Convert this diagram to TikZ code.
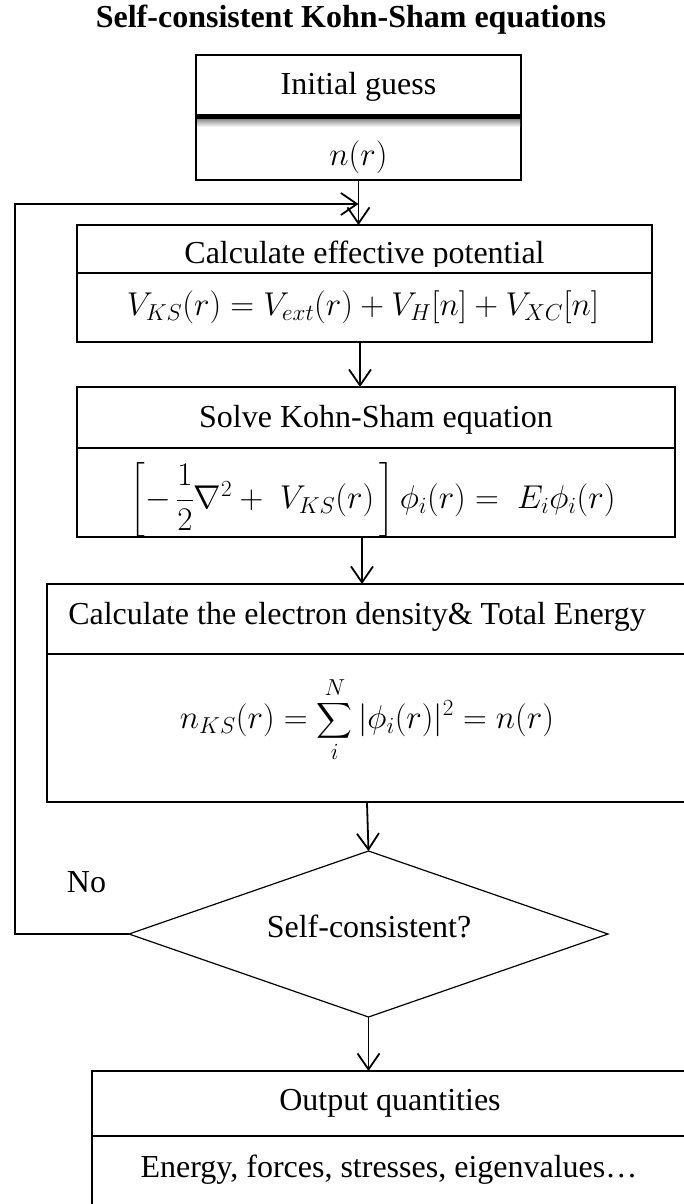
\RequirePackage{fix-cm}
\documentclass[tikz,border=0pt]{standalone}
\usepackage{amsmath}
\usepackage{fontspec}
\setmainfont{Liberation Serif}
\usetikzlibrary{arrows.meta,shapes.geometric}
\newcommand\bodyfont{\fontsize{32}{38}\selectfont}
\newcommand\eqfont{\fontsize{33}{39}\selectfont}
\tikzset{
  box/.style={draw, line width=1.2pt, rectangle, inner sep=0pt, outer sep=0pt},
  txt/.style={font=\bodyfont, inner sep=0pt, anchor=base},
  mth/.style={font=\eqfont, inner sep=0pt},
  arr/.style={line width=1.8pt, -{Straight Barb[length=16pt,width=22pt,line width=1.8pt]}},
  divider/.style={line width=1.2pt}
}
\begin{document}
\begin{tikzpicture}[x=1pt,y=-1pt]
\useasboundingbox (0,0) rectangle (684,1204);
\begin{scope}
\clip (0,0) rectangle (684,1204);
% title
\node[txt, font=\fontsize{32}{38}\selectfont\bfseries] (title) at (351,28) {Self-consistent Kohn-Sham equations};
% initial guess
\node[box, minimum width=325pt, minimum height=125pt] (ig) at (358.5,117.5) {};
\shade[top color=black!45, bottom color=white] (197,119) rectangle (520,127);
\draw[line width=5pt] (196,116.5) -- (521,116.5);
\node[txt] (igt) at (358.5,95) {Initial guess};
\node[mth] (igm) at (358.5,157) {$n(r)$};
% calculate effective potential
\node[box, minimum width=575pt, minimum height=117pt] (calc) at (364.5,283.5) {};
\draw[divider] (77,273) -- (652,273);
\begin{scope}
\clip (77,226) rectangle (652,266);
\node[txt] (calct) at (364.5,263) {Calculate effective potential};
\end{scope}
\node[mth] (calcm) at (363,307) {$V_{KS}(r) = V_{ext}(r) + V_H[n] + V_{XC}[n]$};
% solve KS
\node[box, minimum width=598pt, minimum height=150pt] (solve) at (376,462) {};
\draw[divider] (77,448) -- (675,448);
\node[txt] (solvet) at (376,427) {Solve Kohn-Sham equation};
\node[mth] (solvem) at (373,500) {$\left[-\,\dfrac{1}{2}\nabla^2 +\; V_{KS}(r)\,\right]\phi_i(r) =\; E_i\phi_i(r)$};
% density
\node[box, minimum width=653pt, minimum height=218pt] (dens) at (373.5,693) {};
\draw[divider] (47,654) -- (700,654);
\node[txt] (denst) at (357,624) {Calculate the electron density\& Total Energy};
\node[mth] (densm) at (367,720) {$\displaystyle n_{KS}(r) = \sum_{i}^{N}|\phi_i(r)|^2 = n(r)$};
% decision
\node[draw, line width=1.2pt, diamond, minimum width=479pt, minimum height=166pt, inner sep=0pt, outer sep=0pt] (dec) at (368.5,934) {};
\node[txt] (dect) at (369,937) {Self-consistent?};
\node[txt] (no) at (86.5,892) {No};
% output
\node[box, minimum width=608pt, minimum height=144pt] (out) at (396,1143) {};
\draw[divider] (92,1136) -- (700,1136);
\node[txt] (outt) at (390,1110) {Output quantities};
\node[txt] (outm) at (389,1177) {Energy, forces, stresses, eigenvalues…};
% connectors
\coordinate (lp) at (358.5,204);
\draw[arr] (ig.south) -- (ig.south |- calc.north);
\draw[arr] (360,342) -- (360,387);
\draw[arr] (362,537) -- (362,584);
\draw[arr] (367,803) -- (dec.north);
\draw[arr] (dec.south) -- (dec.south |- out.north);
\draw[arr] (dec.west) -- (15,934) -- (15,204) -- (lp);
\end{scope}
\end{tikzpicture}
\end{document}
